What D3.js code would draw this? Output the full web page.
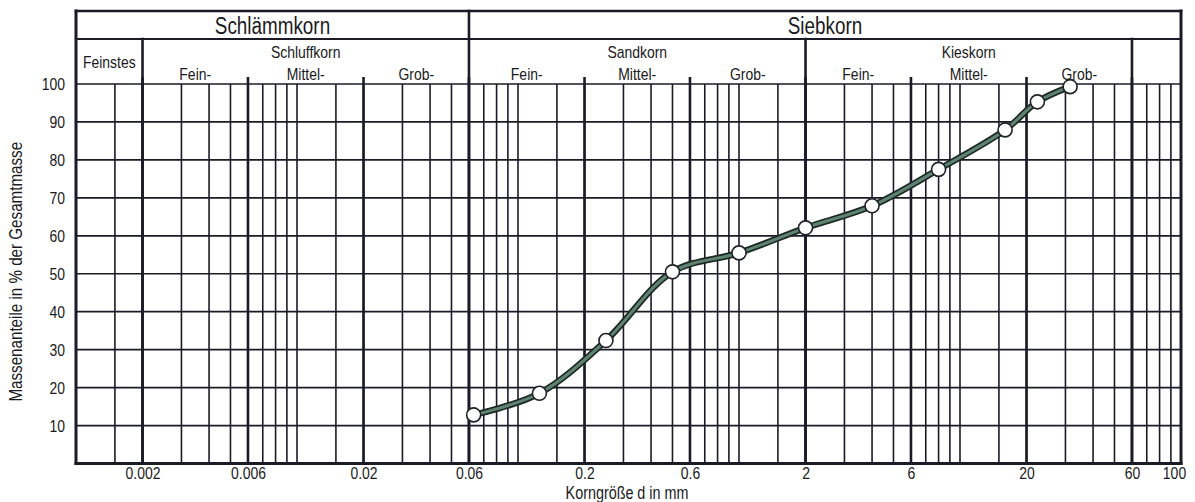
<!DOCTYPE html>
<html><head><meta charset="utf-8">
<script src="https://cdn.jsdelivr.net/npm/d3@7"></script>
<style>
body{margin:0;background:#fff}
svg{display:block}
text{font-family:"Liberation Sans",Arial,Helvetica,sans-serif;fill:#1a1a22}
</style>
</head><body>
<svg id="c" width="1195" height="502"></svg>
<script>
// ---- data ----
const sieveSizes = [0.063, 0.125, 0.25, 0.5, 1, 2, 4, 8, 16, 22.4, 31.5];
const passingPercent = [12.8, 18.5, 32.4, 50.5, 55.5, 62.1, 67.9, 77.5, 87.9, 95.3, 99.3];
const xTickValues = [0.002, 0.006, 0.02, 0.06, 0.2, 0.6, 2, 6, 20, 60, 100];
const xTickLabels = ["0.002", "0.006", "0.02", "0.06", "0.2", "0.6", "2", "6", "20", "60", "100"];
const yTickValues = [10, 20, 30, 40, 50, 60, 70, 80, 90, 100];
const gridDecades = [0.001, 0.01, 0.1, 1, 10];
const gridMultipliers = [1, 1.5, 2, 3, 4, 5, 6, 7, 8, 9];
const majorLines = [0.002, 0.006, 0.02, 0.06, 0.2, 0.6, 2, 6, 20, 60];
const mainHeaders = ["Schlämmkorn", "Siebkorn"];
const mainBounds = [[0.001, 0.06], [0.06, 100]];
const groupHeaders = ["Feinstes", "Schluffkorn", "Sandkorn", "Kieskorn", ""];
const groupBounds = [[0.001, 0.002], [0.002, 0.06], [0.06, 2], [2, 60], [60, 100]];
const subHeaders = ["Fein-", "Mittel-", "Grob-", "Fein-", "Mittel-", "Grob-", "Fein-", "Mittel-", "Grob-"];
const subBounds = [[0.002, 0.006], [0.006, 0.02], [0.02, 0.06], [0.06, 0.2], [0.2, 0.6], [0.6, 2], [2, 6], [6, 20], [20, 60]];
const yAxisTitle = "Massenanteile in % der Gesamtmasse";
const xAxisTitle = "Korngröße d in mm";

// ---- layout ----
const svg = d3.select("#c");
const x = d3.scaleLog().domain([0.001, 100]).range([76, 1181]);
const y = d3.scaleLinear().domain([0, 100]).range([463.5, 84]);
const top0 = 11, row1 = 39, tickTop = 77;
const ink = "#1b1b28";
const xl = x.range()[0], xr = x.range()[1];

// narrow (condensed) lettering like the printed form
function condense(sel, k) {
  sel.each(function () {
    const w = this.getComputedTextLength();
    if (w > 0) {
      this.setAttribute("textLength", (w * k).toFixed(1));
      this.setAttribute("lengthAdjust", "spacingAndGlyphs");
    }
  });
}
const K = 0.82;

const g = svg.append("g");

// vertical grid lines
const gridVals = [];
gridDecades.forEach(dec => gridMultipliers.forEach(m => gridVals.push(dec * m)));
g.selectAll("line.vg").data(gridVals.filter(v => v > 0.001)).join("line")
  .attr("x1", d => x(d)).attr("x2", d => x(d))
  .attr("y1", y(100)).attr("y2", y(0))
  .attr("stroke", ink).attr("stroke-width", 1.6);

// major lines (thicker, extend as ticks above)
g.selectAll("line.mj").data(majorLines).join("line")
  .attr("x1", d => x(d)).attr("x2", d => x(d))
  .attr("y1", tickTop).attr("y2", y(0))
  .attr("stroke", ink).attr("stroke-width", 2.6);

// horizontal grid lines
g.selectAll("line.hg").data(yTickValues).join("line")
  .attr("x1", xl).attr("x2", xr)
  .attr("y1", d => y(d)).attr("y2", d => y(d))
  .attr("stroke", ink).attr("stroke-width", 1.7);

// header frame
const frame = [
  [xl, top0, xr, top0, 2.6],
  [xl, row1, xr, row1, 2.2],
  [xl, top0, xl, y(0), 3],
  [xr, top0, xr, y(0), 3],
  [xl, y(0), xr, y(0), 3],
  [x(0.06), top0, x(0.06), y(0), 2.6],
  [x(0.002), row1, x(0.002), y(0), 2.6],
  [x(2), row1, x(2), y(0), 2.6],
  [x(60), row1, x(60), y(0), 2.6]
];
g.selectAll("line.fr").data(frame).join("line")
  .attr("x1", d => d[0]).attr("y1", d => d[1]).attr("x2", d => d[2]).attr("y2", d => d[3])
  .attr("stroke", ink).attr("stroke-width", d => d[4]).attr("stroke-linecap", "square");

// header texts
const mid = (b) => Math.sqrt(b[0] * b[1]);
g.selectAll("text.mh").data(mainHeaders).join("text")
  .attr("x", (d, i) => x(mid(mainBounds[i]))).attr("y", 26)
  .attr("dy", "0.35em").attr("text-anchor", "middle")
  .attr("font-size", 23).text(d => d).call(condense, K);

g.selectAll("text.gh").data(groupHeaders.filter(d => d)).join("text")
  .attr("x", (d, i) => x(mid(groupBounds[i])))
  .attr("y", (d, i) => i === 0 ? 62 : 52)
  .attr("dy", "0.35em").attr("text-anchor", "middle")
  .attr("font-size", 17).text(d => d).call(condense, K);

g.selectAll("text.sh").data(subHeaders).join("text")
  .attr("x", (d, i) => x(mid(subBounds[i]))).attr("y", 74)
  .attr("dy", "0.35em").attr("text-anchor", "middle")
  .attr("font-size", 17).text(d => d).call(condense, K);

// axes (labels only)
const xAxis = d3.axisBottom(x).tickValues(xTickValues)
  .tickFormat((d, i) => xTickLabels[i]).tickSize(0).tickPadding(0);
const xa = svg.append("g").attr("transform", `translate(0,479)`).call(xAxis);
xa.select(".domain").remove();
xa.selectAll("text").attr("font-size", 17).attr("fill", ink).attr("font-family", null)
  .attr("y", 0).attr("dy", 0)
  .attr("dx", d => d === 100 ? -7 : 0)
  .call(condense, K);

const yAxis = d3.axisLeft(y).tickValues(yTickValues).tickSize(0).tickPadding(0);
const ya = svg.append("g").attr("transform", `translate(65,0)`).call(yAxis);
ya.select(".domain").remove();
ya.selectAll("text").attr("font-size", 17).attr("fill", ink).attr("font-family", null).call(condense, K);

svg.append("text").attr("transform", `translate(22,${(y(0) + y(100)) / 2 - 2}) rotate(-90)`)
  .attr("text-anchor", "middle").attr("font-size", 18.5).text(yAxisTitle).call(condense, K);
svg.append("text").attr("x", 627).attr("y", 498.5)
  .attr("text-anchor", "middle").attr("font-size", 17.5).text(xAxisTitle).call(condense, K);

// curve
const pts = sieveSizes.map((s, i) => [x(s), y(passingPercent[i])]);
const line = d3.line().curve(d3.curveCatmullRom.alpha(0.5));
svg.append("path").attr("d", line(pts)).attr("fill", "none")
  .attr("stroke", "#1e2a24").attr("stroke-width", 6.5).attr("stroke-linecap", "round");
svg.append("path").attr("d", line(pts)).attr("fill", "none")
  .attr("stroke", "#5f8572").attr("stroke-width", 3).attr("stroke-linecap", "round");

svg.selectAll("circle.pt").data(pts).join("circle")
  .attr("cx", d => d[0]).attr("cy", d => d[1]).attr("r", 7)
  .attr("fill", "#fff").attr("stroke", "#1e2228").attr("stroke-width", 1.6);
</script>
</body></html>
